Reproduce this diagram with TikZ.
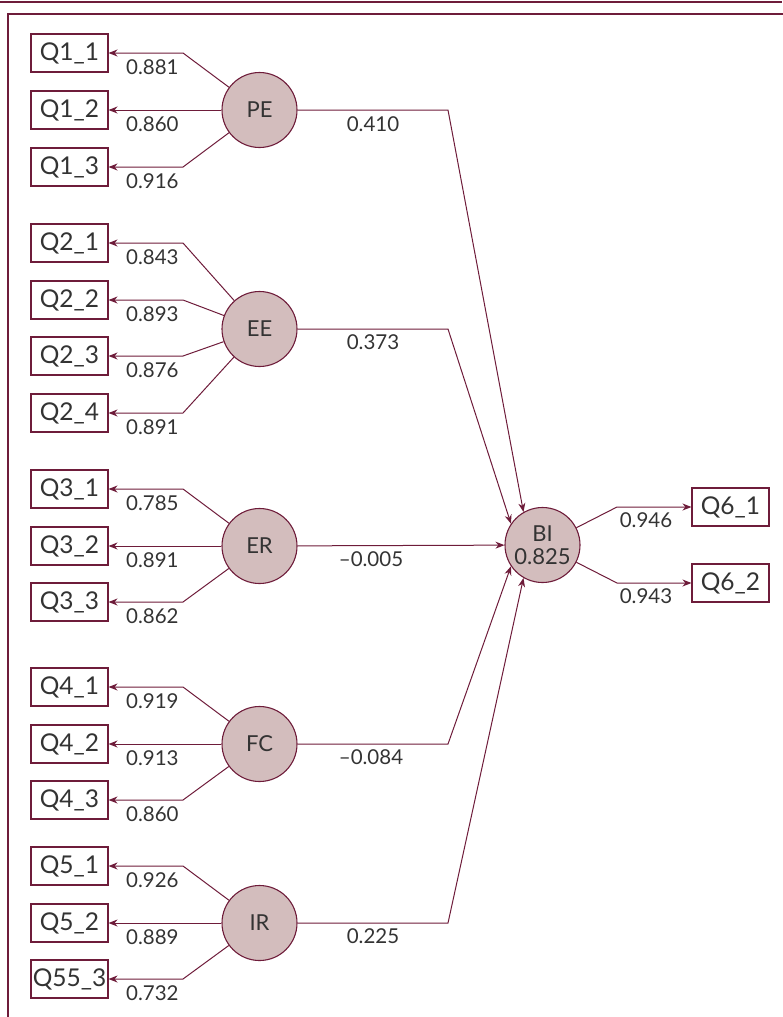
\documentclass[tikz,border=0pt]{standalone}
\usepackage{fontspec}
\setmainfont{Lato}
\usetikzlibrary{arrows.meta}
\definecolor{mar}{HTML}{6E1C3A}
\definecolor{fillc}{HTML}{D3BDBD}
\definecolor{txt}{HTML}{333333}
\begin{document}
\begin{tikzpicture}[x=1pt,y=-1pt,
 ind/.style={draw=mar,line width=1.1pt,fill=white,minimum width=77pt,minimum height=38pt,inner sep=0pt,text=txt,font=\fontsize{24.5}{28}\selectfont},
 lat/.style={circle,draw=mar,line width=1.1pt,fill=fillc,minimum size=75pt,inner sep=0pt,text=txt,font=\fontsize{22}{26}\selectfont,align=center},
 lab/.style={text=txt,font=\fontsize{20.5}{24}\selectfont,inner sep=0pt},
 conn/.style={draw=mar,line width=1pt,-{Stealth[length=9pt,width=7pt]}},
 ]
\useasboundingbox (0,0) rectangle (782,1017);
\draw[mar,line width=1.6pt] (0,2) -- (782,2);
\draw[mar,line width=1.6pt] (8,1030) -- (8,14) -- (800,14);

% latent nodes
\node[lat] (PE) at (259.5,110) {PE};
\node[lat] (EE) at (259.5,329) {EE};
\node[lat] (ER) at (259.5,546) {ER};
\node[lat] (FC) at (259.5,744) {FC};
\node[lat] (IR) at (259.5,923) {IR};
\node[lat] (BI) at (542.5,545) {BI\\[-3pt]0.825};

% indicators
\node[ind] (Q11) at (69.5,53) {Q1\_1};
\node[ind] (Q12) at (69.5,110) {Q1\_2};
\node[ind] (Q13) at (69.5,167) {Q1\_3};
\node[ind] (Q21) at (69.5,243) {Q2\_1};
\node[ind] (Q22) at (69.5,300) {Q2\_2};
\node[ind] (Q23) at (69.5,356) {Q2\_3};
\node[ind] (Q24) at (69.5,413) {Q2\_4};
\node[ind] (Q31) at (69.5,489) {Q3\_1};
\node[ind] (Q32) at (69.5,546) {Q3\_2};
\node[ind] (Q33) at (69.5,602) {Q3\_3};
\node[ind] (Q41) at (69.5,687) {Q4\_1};
\node[ind] (Q42) at (69.5,744) {Q4\_2};
\node[ind] (Q43) at (69.5,800) {Q4\_3};
\node[ind] (Q51) at (69.5,866) {Q5\_1};
\node[ind] (Q52) at (69.5,923) {Q5\_2};
\node[ind] (Q53) at (69.5,979) {Q55\_3};
\node[ind] (Q61) at (730.5,507) {Q6\_1};
\node[ind] (Q62) at (730.5,583) {Q6\_2};

% elbows
\coordinate (e11) at (183,53);
\coordinate (e13) at (183,167);
\coordinate (e21) at (183,243);
\coordinate (e22) at (183,300);
\coordinate (e23) at (183,356);
\coordinate (e24) at (183,413);
\coordinate (e31) at (183,489);
\coordinate (e33) at (183,602);
\coordinate (e41) at (183,687);
\coordinate (e43) at (183,800);
\coordinate (e51) at (183,866);
\coordinate (e53) at (183,979);
\coordinate (e61) at (617,507);
\coordinate (e62) at (617,583);
\coordinate (hPE) at (448,110);
\coordinate (hEE) at (448,329);
\coordinate (hFC) at (448,744);
\coordinate (hIR) at (448,923);

% loadings
\draw[conn] (PE) -- (e11) -- (Q11);
\draw[conn] (PE) -- (Q12);
\draw[conn] (PE) -- (e13) -- (Q13);
\draw[conn] (EE) -- (e21) -- (Q21);
\draw[conn] (EE) -- (e22) -- (Q22);
\draw[conn] (EE) -- (e23) -- (Q23);
\draw[conn] (EE) -- (e24) -- (Q24);
\draw[conn] (ER) -- (e31) -- (Q31);
\draw[conn] (ER) -- (Q32);
\draw[conn] (ER) -- (e33) -- (Q33);
\draw[conn] (FC) -- (e41) -- (Q41);
\draw[conn] (FC) -- (Q42);
\draw[conn] (FC) -- (e43) -- (Q43);
\draw[conn] (IR) -- (e51) -- (Q51);
\draw[conn] (IR) -- (Q52);
\draw[conn] (IR) -- (e53) -- (Q53);
\draw[conn] (BI) -- (e61) -- (Q61);
\draw[conn] (BI) -- (e62) -- (Q62);

% paths
\draw[conn] (PE) -- (hPE) -- (BI.120);
\draw[conn] (EE) -- (hEE) -- (BI.146);
\draw[conn] (ER) -- (BI);
\draw[conn] (FC) -- (hFC) -- (BI.214);
\draw[conn] (IR) -- (hIR) -- (BI.240);

% loading labels
\node[lab,anchor=west] (l11) at (126,67) {0.881};
\node[lab,anchor=west] (l12) at (126,124) {0.860};
\node[lab,anchor=west] (l13) at (126,181) {0.916};
\node[lab,anchor=west] (l21) at (126,257) {0.843};
\node[lab,anchor=west] (l22) at (126,314) {0.893};
\node[lab,anchor=west] (l23) at (126,370) {0.876};
\node[lab,anchor=west] (l24) at (126,427) {0.891};
\node[lab,anchor=west] (l31) at (126,503) {0.785};
\node[lab,anchor=west] (l32) at (126,560) {0.891};
\node[lab,anchor=west] (l33) at (126,616) {0.862};
\node[lab,anchor=west] (l41) at (126,701) {0.919};
\node[lab,anchor=west] (l42) at (126,758) {0.913};
\node[lab,anchor=west] (l43) at (126,814) {0.860};
\node[lab,anchor=west] (l51) at (126,880) {0.926};
\node[lab,anchor=west] (l52) at (126,937) {0.889};
\node[lab,anchor=west] (l53) at (126,993) {0.732};
\node[lab] (l61) at (646,520) {0.946};
\node[lab] (l62) at (646,596) {0.943};

% path labels
\node[lab] (pPE) at (373,124) {0.410};
\node[lab] (pEE) at (373,342) {0.373};
\node[lab] (pER) at (371,559) {–0.005};
\node[lab] (pFC) at (371,757) {–0.084};
\node[lab] (pIR) at (373,936) {0.225};
\end{tikzpicture}
\end{document}
